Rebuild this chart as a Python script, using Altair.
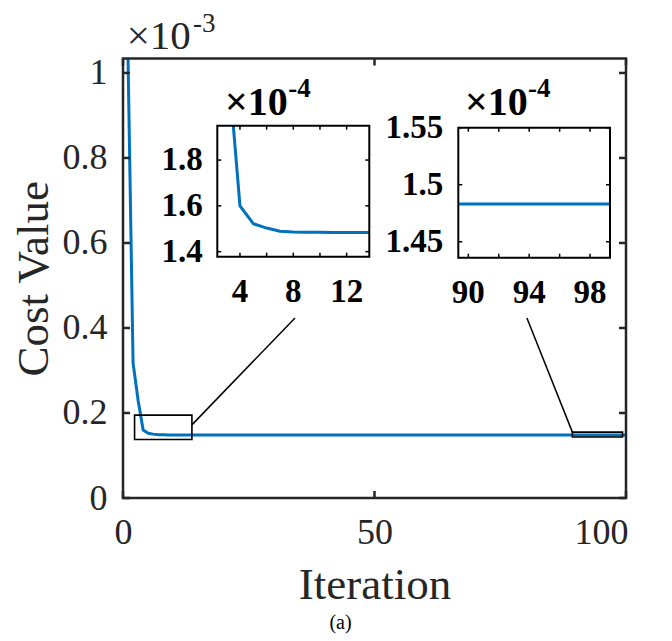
import altair as alt
import pandas as pd

SERIF = "Liberation Serif"
BLUE = "#0072BD"
DARK = "#262626"

# ---------------- data ----------------
iterations = list(range(1, 101))
cost_e4 = [10.34, 3.18, 2.30, 1.60, 1.522, 1.503, 1.489, 1.486, 1.485, 1.485,
           1.484, 1.484, 1.484, 1.484] + [1.483] * 86

main_x_domain = [0, 100]
main_y_domain = [0, 1.034]
main_x_ticks = [0, 50, 100]
main_y_ticks = [0, 0.2, 0.4, 0.6, 0.8, 1.0]

box_x0 = [2.3, 89.34]
box_x1 = [13.7, 99.31]
box_y0 = [0.1378, 0.1436]
box_y1 = [0.195, 0.155]

conn_x0 = [13.7, 89.34]
conn_y0 = [0.172, 0.155]
conn_x1 = [34.2, 80.3]
conn_y1 = [0.4235, 0.4235]

in1_x_domain = [2.3, 13.7]
in1_y_domain = [1.378, 1.95]
in1_x_ticks = [4, 6, 8, 10, 12]
in1_x_labels = ["4", "8", "12"]
in1_x_label_pos = [4, 8, 12]
in1_y_ticks = [1.4, 1.6, 1.8]
in1_y_labels = ["1.4", "1.6", "1.8"]

in2_x_domain = [89.34, 99.31]
in2_y_domain = [1.436, 1.55]
in2_x_ticks = [90, 92, 94, 96, 98]
in2_x_labels = ["90", "94", "98"]
in2_x_label_pos = [90, 94, 98]
in2_y_ticks = [1.45, 1.5, 1.55]
in2_y_labels = ["1.45", "1.5", "1.55"]

W, H = 503, 439.5

df = pd.DataFrame({"iteration": iterations, "cost": cost_e4})
df["main"] = df["cost"] / 10.0


def inset(xdom, ydom, xrange, yrange, it_lo, it_hi, xticks, xlab_pos, xlabels,
          yticks, ylabels, ylab_dx, exp_dx, sup_dx, exp_dy, sup_dy, mask_top=None):
    xs = alt.Scale(domain=xdom, range=xrange, clamp=True, nice=False, zero=False)
    ys = alt.Scale(domain=ydom, range=yrange, nice=False, zero=False)
    sub = df[(df.iteration >= it_lo) & (df.iteration <= it_hi)]
    bg = alt.Chart(pd.DataFrame({"a": [0]})).mark_rect(fill="white").encode(
        x=alt.X("x0:Q", scale=xs, axis=None), x2="x1:Q",
        y=alt.Y("y0:Q", scale=ys, axis=None), y2="y1:Q",
    ).transform_calculate(x0=str(xdom[0]), x1=str(xdom[1]), y0=str(ydom[0]), y1=str(ydom[1]))
    line = alt.Chart(sub).mark_line(color=BLUE, strokeWidth=3, strokeJoin="round").encode(
        x=alt.X("iteration:Q", scale=xs, axis=None),
        y=alt.Y("cost:Q", scale=ys, axis=None),
    )
    layers = [bg, line]
    if mask_top is not None:
        mask = alt.Chart(pd.DataFrame({"a": [0]})).mark_rect(fill="white").encode(
            x=alt.datum(xdom[0]), x2=alt.datum(xdom[1]),
            y=alt.datum(ydom[1]), y2=alt.datum(mask_top),
        )
        layers.append(mask)
    frame = alt.Chart(pd.DataFrame({"a": [0]})).mark_rect(
        filled=False, stroke="black", strokeWidth=2).encode(
        x=alt.datum(xdom[0]), x2=alt.datum(xdom[1]),
        y=alt.datum(ydom[0]), y2=alt.datum(ydom[1]),
    )
    xt = pd.DataFrame({"t": xticks})
    yt = pd.DataFrame({"t": yticks})
    tb = alt.Chart(xt).mark_rule(color="black", strokeWidth=1.5, y2Offset=-4).encode(
        x="t:Q", y=alt.datum(ydom[0]), y2=alt.datum(ydom[0]))
    tt = alt.Chart(xt).mark_rule(color="black", strokeWidth=1.5, y2Offset=4).encode(
        x="t:Q", y=alt.datum(ydom[1]), y2=alt.datum(ydom[1]))
    tl = alt.Chart(yt).mark_rule(color="black", strokeWidth=1.5, x2Offset=4).encode(
        y="t:Q", x=alt.datum(xdom[0]), x2=alt.datum(xdom[0]))
    tr = alt.Chart(yt).mark_rule(color="black", strokeWidth=1.5, x2Offset=-4).encode(
        y="t:Q", x=alt.datum(xdom[1]), x2=alt.datum(xdom[1]))
    xl = alt.Chart(pd.DataFrame({"t": xlab_pos, "s": xlabels})).mark_text(
        font=SERIF, fontWeight="bold", fontSize=33, color="black",
        baseline="middle", align="center", dy=35).encode(
        x="t:Q", y=alt.datum(ydom[0]), text="s:N")
    yl = alt.Chart(pd.DataFrame({"t": yticks, "s": ylabels})).mark_text(
        font=SERIF, fontWeight="bold", fontSize=33, color="black",
        baseline="middle", align="right", dx=ylab_dx).encode(
        y="t:Q", x=alt.datum(xdom[0]), text="s:N")
    ex = alt.Chart(pd.DataFrame({"a": [0]})).mark_text(
        text="×10", font=SERIF, fontWeight="bold", fontSize=40, color="black",
        align="left", baseline="alphabetic", dx=exp_dx, dy=exp_dy).encode(
        x=alt.datum(xdom[0]), y=alt.datum(ydom[1]))
    sp = alt.Chart(pd.DataFrame({"a": [0]})).mark_text(
        text="-4", font=SERIF, fontWeight="bold", fontSize=27, color="black",
        align="left", baseline="alphabetic", dx=sup_dx, dy=sup_dy).encode(
        x=alt.datum(xdom[0]), y=alt.datum(ydom[1]))
    layers += [frame, tb, tt, tl, tr, xl, yl, ex, sp]
    return alt.layer(*layers)


inset1 = inset(in1_x_domain, in1_y_domain, [94.3, 246.3], [198.2, 67.2], 3, 14,
               in1_x_ticks, in1_x_label_pos, in1_x_labels, in1_y_ticks, in1_y_labels,
               -14.6, 7.7, 71, -10.7, -29, mask_top=2.35)
inset2 = inset(in2_x_domain, in2_y_domain, [335.3, 487], [199.2, 69.2], 89, 100,
               in2_x_ticks, in2_x_label_pos, in2_x_labels, in2_y_ticks, in2_y_labels,
               -15, 6.7, 69.7, -12.7, -31)

# ---------------- main axes ----------------
mxs = alt.Scale(domain=main_x_domain, nice=False, zero=False)
mys = alt.Scale(domain=main_y_domain, nice=False, zero=False)

main_line = alt.Chart(df).mark_line(color=BLUE, strokeWidth=3, strokeJoin="round").encode(
    x=alt.X("iteration:Q", scale=mxs,
            axis=alt.Axis(values=main_x_ticks, format="d", title="Iteration", orient="bottom",
                          labelPadding=17, titlePadding=12, labelFlush=False,
                          labelAlign=alt.expr("datum.value == 100 ? 'right' : 'center'"),
                          labelOffset=alt.expr("datum.value == 100 ? 2 : 0"))),
    y=alt.Y("main:Q", scale=mys,
            axis=alt.Axis(values=main_y_ticks, format="~g", title="Cost Value", orient="left",
                          labelPadding=16, titlePadding=6)),
)

boxes_df = pd.DataFrame({"x0": box_x0, "x1": box_x1, "y0": box_y0, "y1": box_y1})
boxes = alt.Chart(boxes_df).mark_rect(filled=False, stroke="black", strokeWidth=1.6).encode(
    x="x0:Q", x2="x1:Q", y="y0:Q", y2="y1:Q")

conn_df = pd.DataFrame({"x0": conn_x0, "y0": conn_y0, "x1": conn_x1, "y1": conn_y1})
conns = alt.Chart(conn_df).mark_rule(color="black", strokeWidth=1.5).encode(
    x="x0:Q", y="y0:Q", x2="x1:Q", y2="y1:Q")

one = pd.DataFrame({"a": [0]})
frame = alt.Chart(one).mark_rect(filled=False, stroke=DARK, strokeWidth=2.5).encode(
    x=alt.datum(main_x_domain[0]), x2=alt.datum(main_x_domain[1]),
    y=alt.datum(main_y_domain[0]), y2=alt.datum(main_y_domain[1]))

mxt = pd.DataFrame({"t": main_x_ticks})
myt = pd.DataFrame({"t": main_y_ticks})
ticks = [
    alt.Chart(mxt).mark_rule(color=DARK, strokeWidth=2.5, y2Offset=-7).encode(
        x="t:Q", y=alt.datum(main_y_domain[0]), y2=alt.datum(main_y_domain[0])),
    alt.Chart(mxt).mark_rule(color=DARK, strokeWidth=2.5, y2Offset=7).encode(
        x="t:Q", y=alt.datum(main_y_domain[1]), y2=alt.datum(main_y_domain[1])),
    alt.Chart(myt).mark_rule(color=DARK, strokeWidth=2.5, x2Offset=7).encode(
        y="t:Q", x=alt.datum(main_x_domain[0]), x2=alt.datum(main_x_domain[0])),
    alt.Chart(myt).mark_rule(color=DARK, strokeWidth=2.5, x2Offset=-7).encode(
        y="t:Q", x=alt.datum(main_x_domain[1]), x2=alt.datum(main_x_domain[1])),
]

exp_main = alt.Chart(one).mark_text(
    text="×10", font=SERIF, fontSize=41, color=DARK, align="left",
    baseline="alphabetic", dx=3.7, dy=-9.2).encode(
    x=alt.datum(main_x_domain[0]), y=alt.datum(main_y_domain[1]))
sup_main = alt.Chart(one).mark_text(
    text="-3", font=SERIF, fontSize=27, color=DARK, align="left",
    baseline="alphabetic", dx=70, dy=-26.8).encode(
    x=alt.datum(main_x_domain[0]), y=alt.datum(main_y_domain[1]))

main = alt.layer(main_line, boxes, conns, frame, *ticks, exp_main, sup_main)

chart = alt.layer(inset1, inset2, main).resolve_scale(
    x="independent", y="independent"
).properties(
    width=W, height=H,
    autosize=alt.AutoSizeParams(type="none"),
    padding={"left": 115, "top": 50.5, "right": 30, "bottom": 142},
    title=alt.Title("(a)", orient="bottom", anchor="middle", dx=-34, offset=6,
                    font=SERIF, fontSize=20, fontWeight="normal", color="black"),
).configure_view(stroke=None).configure_axis(
    domain=False, ticks=False, grid=False,
    labelFont=SERIF, labelFontSize=36, labelColor=DARK,
    titleFont=SERIF, titleFontSize=45, titleColor=DARK, titleFontWeight="normal",
)

chart.save("out.html", embed_options={"renderer": "svg", "actions": False})
